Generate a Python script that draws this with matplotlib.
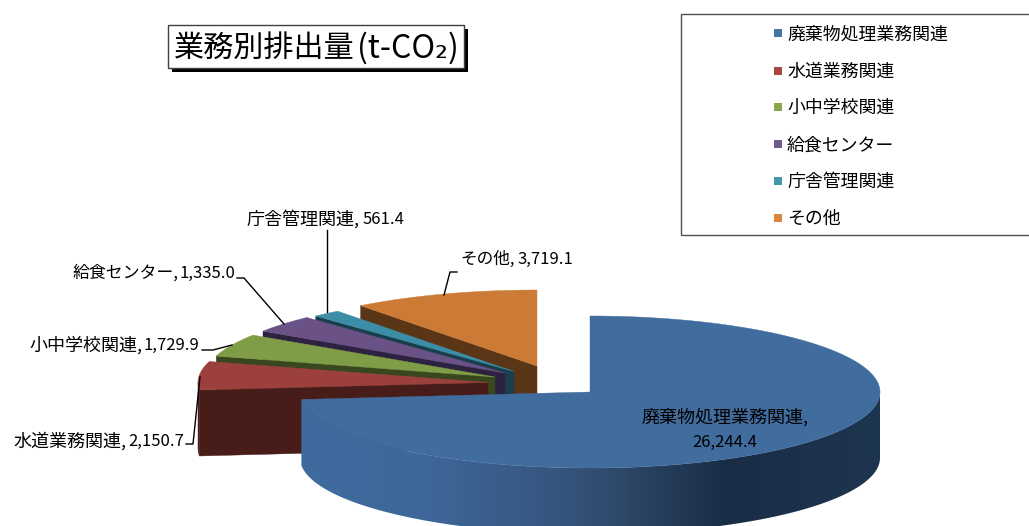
import numpy as np
import matplotlib
matplotlib.use('Agg')
import matplotlib.pyplot as plt
from matplotlib.patches import Rectangle, Polygon

plt.rcParams['font.family'] = ['Noto Sans CJK JP', 'DejaVu Sans']

# data
categories = ['廃棄物処理業務関連', '水道業務関連', '小中学校関連', '給食センター', '庁舎管理関連', 'その他']
values = [26244.4, 2150.7, 1729.9, 1335.0, 561.4, 3719.1]
value_labels = ['26,244.4', '2,150.7', '1,729.9', '1,335.0', '561.4', '3,719.1']

# colours
legend_colors = ['#4572a7', '#aa4643', '#89a54e', '#71588f', '#4198af', '#db843d']
top_colors = ['#416c9e', '#9c403d', '#7f9c47', '#6a5186', '#3c8ea6', '#cb7b36']
wall_colors = ['#1d3550', '#471c19', '#39471f', '#2d2240', '#193f4d', '#5a3516']

# pixel layout of the 3D pie: centre of each exploded slice
center_x = [590, 488, 495, 505, 514, 537]
center_y = [392, 382.5, 377, 373, 371.5, 366]
rx = 290
ry = 76
depth = 66

fig = plt.figure(figsize=(10.29, 5.26), dpi=100)
ax = fig.add_axes([0, 0, 1, 1])

ends = np.cumsum(values) / np.sum(values) * 2 * np.pi
starts = np.concatenate(([0], ends[:-1]))


def rim(i, t):
    return center_x[i] + rx * np.sin(t), center_y[i] - ry * np.cos(t)


# back slices first, the big one last
for i in [5, 4, 3, 2, 1, 0]:
    t = np.linspace(starts[i], ends[i], 300)
    xs, ys = rim(i, t)

    # cut face at the start of the slice
    if i > 0:
        x0, y0 = rim(i, starts[i])
        ax.fill([center_x[i], x0, x0, center_x[i]],
                [center_y[i], y0, y0 + depth, center_y[i] + depth],
                color=wall_colors[i], lw=0.3, zorder=1 + (5 - i) * 0.1)

    # outer wall, only where it faces the viewer
    front = (t >= np.pi / 2) & (t <= 3 * np.pi / 2)
    fx, fy = xs[front], ys[front]
    if i == 0:
        # the big slice's outer wall fades from light to dark, left to right
        gx = np.arange(301, 881)
        knots = [301, 420, 557, 623, 723, 880]
        shade = np.dstack([np.interp(gx, knots, [0x3f, 0x3e, 0x36, 0x2d, 0x1a, 0x1e]),
                           np.interp(gx, knots, [0x6b, 0x68, 0x55, 0x48, 0x2d, 0x35]),
                           np.interp(gx, knots, [0x9f, 0x9a, 0x7f, 0x68, 0x46, 0x50])]) / 255
        im = ax.imshow(shade, extent=(301, 881, 540, 380), aspect='auto', zorder=2)
        im.set_clip_path(Polygon(np.c_[np.r_[fx, fx[::-1]], np.r_[fy, fy[::-1] + depth]],
                                 transform=ax.transData))
    elif front.sum() > 1:
        ax.fill(np.r_[fx, fx[::-1]], np.r_[fy, fy[::-1] + depth],
                color=wall_colors[i], lw=0.3, zorder=1 + (5 - i) * 0.1)

    # top face
    ax.fill(np.r_[center_x[i], xs], np.r_[center_y[i], ys],
            color=top_colors[i], lw=0.3, zorder=1.05 + (5 - i) * 0.1 if i > 0 else 2.1)

ax.set_xlim(0, 1029)
ax.set_ylim(526, 0)
ax.axis('off')

# title box with shadow
ax.add_patch(Rectangle((172, 29), 296, 43, facecolor='black', edgecolor='none'))
ax.add_patch(Rectangle((168, 25), 296, 43, facecolor='white', edgecolor='#404040', lw=1))
ax.text(174, 48, '業務別排出量', fontsize=21.7, ha='left', va='center', color='black')
ax.text(357, 48, '(t-CO₂)', fontsize=23, ha='left', va='center', color='black')

# legend box runs off the right edge
ax.add_patch(Rectangle((681, 14), 360, 221, facecolor='white', edgecolor='#505050', lw=1))
legend_y = [33, 71, 107, 144, 181, 218]
for name, col, y in zip(categories, legend_colors, legend_y):
    ax.add_patch(Rectangle((774, y - 4), 8, 8, facecolor=col, edgecolor='none'))
    ax.text(787, y + 1.2, name, fontsize=12.9, ha='left', va='center', color='black')

# data labels: name from the left edge, number to the right edge
ax.text(725, 417, categories[0] + ',', fontsize=13, ha='center', va='center', zorder=5)
ax.text(725, 442, value_labels[0], fontsize=12, ha='center', va='center', zorder=5)
name_left = [13, 29, 73, 247, 460]
name_size = [13, 13, 12.2, 13, 12]
number_right = [184, 199, 235, 404, 573]
label_y = [441, 345, 273, 219, 259]
for k in range(5):
    ax.text(name_left[k], label_y[k], categories[k + 1] + ',', fontsize=name_size[k], ha='left', va='center', zorder=5)
    ax.text(number_right[k], label_y[k], value_labels[k + 1], fontsize=12, ha='right', va='center', zorder=5)

# leader lines
ax.plot([186, 193, 200], [444, 444, 377], color='black', lw=1, zorder=4)
ax.plot([202, 213, 232], [350, 350, 345], color='black', lw=1, zorder=4)
ax.plot([237, 244, 284], [278, 278, 324], color='black', lw=1, zorder=4)
ax.plot([327, 327], [230, 312], color='black', lw=1, zorder=4)
ax.plot([457, 450, 444], [272, 272, 295], color='black', lw=1, zorder=4)

fig.savefig('out.png', dpi=100)
